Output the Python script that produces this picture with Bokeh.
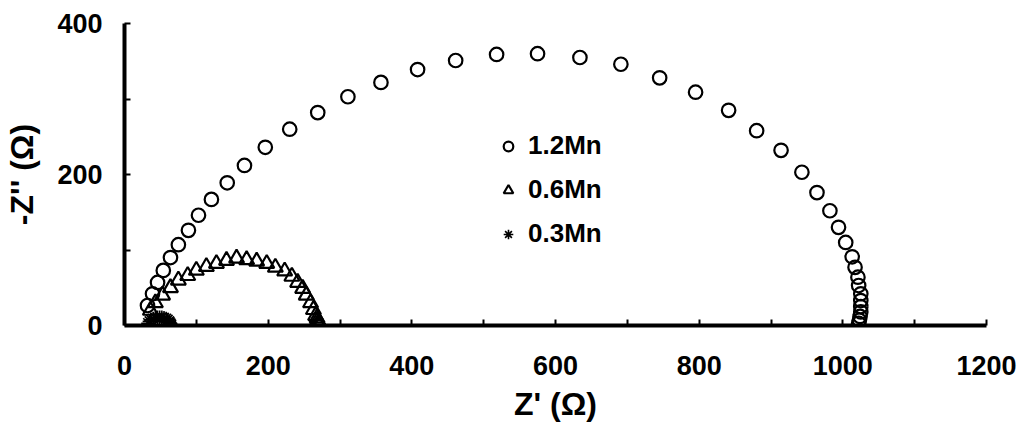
from bokeh.plotting import figure
from bokeh.models import FixedTicker, Legend, LegendItem, Range1d
from bokeh.embed import file_html
from bokeh.resources import INLINE

# 1.2Mn (circles)
c12_x = [32, 39, 46, 54, 64, 75, 89, 103, 121, 143, 167, 196, 230, 269, 311, 357, 408, 461,
         518, 575, 634, 691, 745, 795, 841, 880, 914, 943, 964, 982, 994, 1004, 1013, 1017,
         1021, 1022, 1025, 1025, 1025, 1025, 1024, 1023, 1022]
c12_y = [26.5, 42, 57, 73, 90, 107, 126, 146, 167, 189, 212, 236, 260, 282, 303, 322, 339, 351,
         359, 360, 355, 346, 328, 309, 285, 258, 232, 203, 176, 152, 130, 110, 91, 77,
         64, 53, 42, 33, 25, 18, 12, 7, 3]

# 0.6Mn (triangles)
t06_x = [36, 43, 53, 64, 75, 88, 100, 114, 128, 142, 156, 170, 184, 198, 210, 223, 233, 241,
         248, 253, 259, 263, 266, 268, 269, 270, 271, 271, 271]
t06_y = [20, 30, 40, 50, 60, 66, 73, 78, 82, 86, 89, 87, 85, 82, 77, 72, 65, 57,
         49, 40, 30, 21, 13, 10, 7, 4, 2, 1, 0]

# 0.3Mn (asterisks)
s03_x = [33, 35, 37, 40, 43, 46, 49, 52, 55, 58, 60, 62, 63, 64, 65]
s03_y = [3, 5.5, 7.5, 9, 10, 10.5, 10.5, 10.5, 10, 9, 7.5, 5.5, 4, 2.5, 1]

labels = ["1.2Mn", "0.6Mn", "0.3Mn"]
x_major = [0, 200, 400, 600, 800, 1000, 1200]
x_minor = [100, 300, 500, 700, 900, 1100]
y_major = [0, 200, 400]
y_minor = [100, 300]

FONT = "Liberation Sans"

p = figure(width=1019, height=433, x_range=Range1d(0, 1200), y_range=Range1d(0, 400),
           output_backend="svg", toolbar_location=None,
           min_border_left=124, min_border_right=33, min_border_top=23, min_border_bottom=108)
p.outline_line_color = None
p.xgrid.visible = False
p.ygrid.visible = False
p.background_fill_color = "white"
p.border_fill_color = "white"

r1 = p.scatter(c12_x, c12_y, marker="circle", size=13.5, line_color="black", line_width=2.2,
               fill_alpha=0)
r2 = p.scatter(t06_x, t06_y, marker="triangle", size=15, line_color="black", line_width=2.2,
               fill_alpha=0)
r3 = p.scatter(s03_x, s03_y, marker="asterisk", size=14, line_color="black", line_width=1.6)

for ax, maj, mnr in ((p.xaxis[0], x_major, x_minor), (p.yaxis[0], y_major, y_minor)):
    ax.ticker = FixedTicker(ticks=maj, minor_ticks=mnr)
    ax.axis_line_width = 4
    ax.axis_line_color = "black"
    ax.major_tick_in = 6
    ax.major_tick_out = 0
    ax.minor_tick_in = 6
    ax.minor_tick_out = 0
    ax.major_tick_line_width = 2
    ax.minor_tick_line_width = 2
    ax.major_label_text_font = FONT
    ax.major_label_text_font_style = "bold"
    ax.major_label_text_font_size = "27px"
    ax.major_label_text_color = "black"
    ax.axis_label_text_font = FONT
    ax.axis_label_text_font_style = "bold"
    ax.axis_label_text_font_size = "32px"
    ax.axis_label_text_color = "black"

p.xaxis.axis_label = "Z' (Ω)"
p.yaxis.axis_label = "-Z'' (Ω)"
p.xaxis.major_label_standoff = 30
p.xaxis.axis_label_standoff = 8
p.yaxis.major_label_standoff = 22
p.yaxis.axis_label_standoff = 14
p.yaxis.major_label_orientation = "horizontal"

legend = Legend(items=[LegendItem(label=labels[0], renderers=[r1]),
                       LegendItem(label=labels[1], renderers=[r2]),
                       LegendItem(label=labels[2], renderers=[r3])],
                location=(372, 76), orientation="vertical",
                glyph_width=24, glyph_height=30, label_height=30, label_standoff=8,
                spacing=13, padding=0, margin=0,
                border_line_color=None, background_fill_alpha=0,
                label_text_font=FONT, label_text_font_style="bold",
                label_text_font_size="26px", label_text_color="black")
p.add_layout(legend)

open("out.html", "w").write(file_html(p, INLINE))
